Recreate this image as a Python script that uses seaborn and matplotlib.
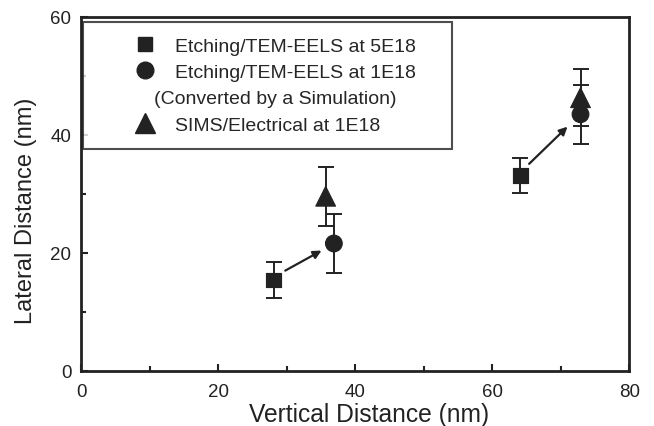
import pandas as pd
import numpy as np
import matplotlib
matplotlib.use('Agg')
import matplotlib.pyplot as plt
from matplotlib.lines import Line2D
import seaborn as sns

# datos
sq_x = [28.1, 64.1]
sq_y = [15.4, 33.1]
sq_err = [3.0, 3.0]

ci_x = [36.9, 72.9]
ci_y = [21.6, 43.5]
ci_err = [5.0, 5.0]

tr_x = [35.7, 72.9]
tr_y = [29.6, 46.3]
tr_err = [5.0, 4.8]

# flechas: (inicio x, inicio y, fin x, fin y)
arrow_start_x = [29.8, 65.4]
arrow_start_y = [17.0, 35.1]
arrow_end_x = [35.1, 71.0]
arrow_end_y = [20.4, 41.4]

labels = ['Etching/TEM-EELS at 5E18', 'Etching/TEM-EELS at 1E18',
          '(Converted by a Simulation)', 'SIMS/Electrical at 1E18']

sns.set_style('ticks')
plt.rcParams['font.family'] = ['Liberation Sans', 'DejaVu Sans']

df = pd.DataFrame({
    'x': sq_x + ci_x + tr_x,
    'y': sq_y + ci_y + tr_y,
    'err': sq_err + ci_err + tr_err,
    'serie': ['sq'] * 2 + ['ci'] * 2 + ['tr'] * 2,
})

fig = plt.figure(figsize=(6.54, 4.27), dpi=100)
ax = fig.add_axes([0.124, 0.129, 0.838, 0.829])

col = '#222222'
ax.errorbar(df['x'], df['y'], yerr=df['err'], fmt='none', ecolor=col,
            elinewidth=1.4, capsize=5.5, capthick=1.4, zorder=2)

sns.scatterplot(data=df, x='x', y='y', style='serie', size='serie',
                markers={'sq': 's', 'ci': 'o', 'tr': '^'},
                sizes={'sq': 112, 'ci': 144, 'tr': 200},
                color=col, edgecolor=col, legend=False, ax=ax, zorder=3)

for i in range(len(arrow_start_x)):
    ax.annotate('', xy=(arrow_end_x[i], arrow_end_y[i]),
                xytext=(arrow_start_x[i], arrow_start_y[i]),
                arrowprops=dict(arrowstyle='-|>', color=col, lw=1.6,
                                mutation_scale=12, shrinkA=0, shrinkB=0))

ax.set_xlim(0, 80)
ax.set_ylim(0, 60)
ax.set_xticks([0, 20, 40, 60, 80])
ax.set_yticks([0, 20, 40, 60])
ax.set_xticks([10, 30, 50, 70], minor=True)
ax.set_yticks([10, 30, 50], minor=True)
ax.tick_params(which='both', direction='in', width=1.5, labelsize=13.5, colors=col)
ax.tick_params(which='major', length=5)
ax.tick_params(which='minor', length=3.5)
ax.tick_params(axis='x', pad=9)
ax.tick_params(axis='y', pad=7)
for s in ax.spines.values():
    s.set_linewidth(2.0)
    s.set_color(col)

ax.set_xlabel('Vertical Distance (nm)', fontsize=17.7, color=col, labelpad=1, x=0.526)
ax.set_ylabel('Lateral Distance (nm)', fontsize=17, color=col)
ax.yaxis.set_label_coords(-0.08, 0.455)

handles = [
    Line2D([], [], marker='s', ls='none', color=col, markersize=10.6),
    Line2D([], [], marker='o', ls='none', color=col, markersize=12),
    Line2D([], [], ls='none'),
    Line2D([], [], marker='^', ls='none', color=col, markersize=14),
]
leg = ax.legend(handles, labels, loc='upper left', mode='expand',
                bbox_to_anchor=(0.004, 0.987, 0.673, 0.0),
                fontsize=14, frameon=True, fancybox=False, edgecolor=col,
                borderpad=0.8, handlelength=4.7, handletextpad=-0.8,
                labelspacing=0.45, borderaxespad=0)
leg.get_frame().set_linewidth(1.5)
leg.texts[2].set_position((-21, 0))

fig.savefig('out.png', dpi=100, facecolor='white')
